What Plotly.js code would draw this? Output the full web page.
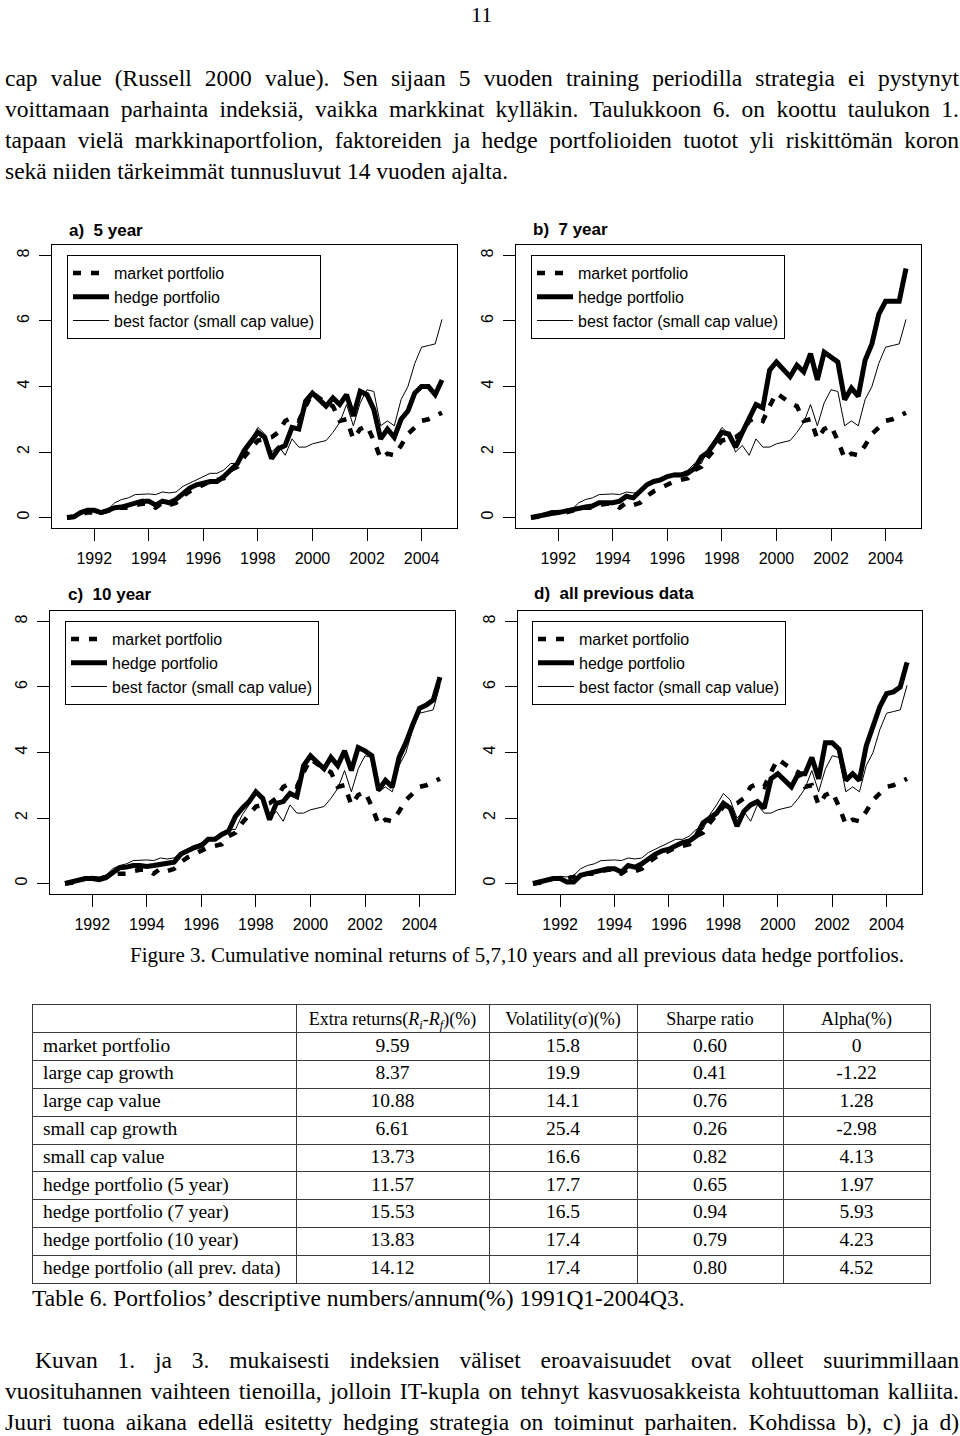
<!DOCTYPE html>
<html>
<head>
<meta charset="utf-8">
<script src="https://cdn.plot.ly/plotly-3.0.1.min.js"></script>
<style>
  html, body { margin: 0; padding: 0; background: #ffffff; }
  #page { width: 960px; height: 1436px; }
</style>
</head>
<body>
<div id="page"></div>
<script>
// ---------------- DATA ----------------
const quarters = [1991, 1991.25, 1991.5, 1991.75, 1992, 1992.25, 1992.5, 1992.75,
  1993, 1993.25, 1993.5, 1993.75, 1994, 1994.25, 1994.5, 1994.75,
  1995, 1995.25, 1995.5, 1995.75, 1996, 1996.25, 1996.5, 1996.75,
  1997, 1997.25, 1997.5, 1997.75, 1998, 1998.25, 1998.5, 1998.75,
  1999, 1999.25, 1999.5, 1999.75, 2000, 2000.25, 2000.5, 2000.75,
  2001, 2001.25, 2001.5, 2001.75, 2002, 2002.25, 2002.5, 2002.75,
  2003, 2003.25, 2003.5, 2003.75, 2004, 2004.25, 2004.5, 2004.75];

const marketPortfolio = [0, 0.02, 0.10, 0.15, 0.15, 0.15, 0.20, 0.28, 0.30, 0.30,
  0.38, 0.42, 0.42, 0.30, 0.45, 0.38, 0.45, 0.65, 0.80, 0.90,
  1.00, 1.10, 1.15, 1.20, 1.45, 1.55, 1.85, 2.10, 2.35, 2.40,
  2.45, 2.60, 2.95, 3.05, 2.95, 3.40, 3.80, 3.65, 3.50, 3.40,
  2.95, 3.00, 2.40, 2.70, 2.80, 2.35, 1.80, 1.95, 1.90, 2.20,
  2.55, 2.75, 2.95, 3.00, 3.10, 3.20];

const bestFactor = [0, 0.05, 0.15, 0.20, 0.22, 0.20, 0.25, 0.45, 0.55, 0.60,
  0.70, 0.72, 0.72, 0.70, 0.78, 0.75, 0.78, 0.95, 1.05, 1.15,
  1.25, 1.35, 1.35, 1.45, 1.65, 1.65, 2.10, 2.40, 2.75, 2.55,
  2.00, 2.20, 1.90, 2.40, 2.15, 2.15, 2.25, 2.30, 2.35, 2.60,
  2.90, 3.45, 2.80, 3.50, 3.90, 3.85, 2.80, 2.95, 2.80, 3.60,
  4.00, 4.70, 5.20, 5.25, 5.30, 6.05];

const hedge5 = [0, 0.02, 0.15, 0.22, 0.22, 0.15, 0.22, 0.30, 0.32, 0.38,
  0.45, 0.50, 0.50, 0.38, 0.50, 0.45, 0.55, 0.75, 0.90, 1.00,
  1.05, 1.10, 1.10, 1.25, 1.45, 1.65, 2.05, 2.30, 2.60, 2.45,
  1.80, 2.10, 2.20, 2.75, 2.70, 3.55, 3.80, 3.60, 3.40, 3.65,
  3.45, 3.75, 3.10, 3.85, 3.75, 3.30, 2.40, 2.70, 2.45, 3.00,
  3.25, 3.80, 4.00, 4.00, 3.75, 4.20];

const hedge7 = [0, 0.05, 0.10, 0.12, 0.15, 0.20, 0.22, 0.30, 0.32, 0.35,
  0.45, 0.45, 0.45, 0.50, 0.65, 0.60, 0.80, 1.00, 1.10, 1.15,
  1.25, 1.30, 1.30, 1.35, 1.50, 1.85, 2.00, 2.30, 2.60, 2.55,
  2.15, 2.60, 3.00, 3.45, 3.35, 4.50, 4.75, 4.50, 4.30, 4.65,
  4.45, 5.00, 4.20, 5.05, 4.90, 4.75, 3.60, 3.95, 3.70, 4.80,
  5.30, 6.20, 6.60, 6.60, 6.60, 7.60];

const hedge10 = [0, 0.05, 0.12, 0.15, 0.15, 0.12, 0.18, 0.35, 0.48, 0.50,
  0.55, 0.55, 0.52, 0.55, 0.60, 0.62, 0.65, 0.90, 1.00, 1.10,
  1.15, 1.35, 1.35, 1.50, 1.60, 2.05, 2.30, 2.50, 2.80, 2.60,
  1.95, 2.45, 2.50, 2.75, 2.65, 3.60, 3.90, 3.70, 3.50, 3.85,
  3.60, 4.05, 3.45, 4.15, 4.05, 3.90, 2.85, 3.15, 2.95, 3.85,
  4.30, 4.85, 5.35, 5.45, 5.60, 6.30];

const hedgeAll = [0, 0.05, 0.10, 0.15, 0.15, 0.05, 0.05, 0.25, 0.30, 0.35,
  0.40, 0.45, 0.45, 0.35, 0.55, 0.50, 0.60, 0.75, 0.90, 1.00,
  1.05, 1.15, 1.25, 1.30, 1.45, 1.85, 2.00, 2.15, 2.45, 2.30,
  1.75, 2.20, 2.40, 2.50, 2.30, 3.20, 3.35, 3.15, 2.95, 3.35,
  3.35, 3.85, 3.20, 4.30, 4.30, 4.10, 3.15, 3.35, 3.15, 4.20,
  4.80, 5.40, 5.80, 5.85, 6.00, 6.75];

const seriesNames = ['market portfolio', 'hedge portfolio', 'best factor (small cap value)'];
const panelTitles = ['a)\u00a0 5 year', 'b)\u00a0 7 year', 'c)\u00a0 10 year', 'd)\u00a0 all previous data'];
const xTickYears = [1992, 1994, 1996, 1998, 2000, 2002, 2004];
const yTickValues = [0, 2, 4, 6, 8];

// Table 6
const tableRows = ['market portfolio', 'large cap growth', 'large cap value', 'small cap growth',
  'small cap value', 'hedge portfolio (5 year)', 'hedge portfolio (7 year)',
  'hedge portfolio (10 year)', 'hedge portfolio (all prev. data)'];
const tableHeaders = ['', 'Extra returns(<i>R</i><sub><i>i</i></sub>-<i>R</i><sub><i>f</i></sub>)(%)',
  'Volatility(\u03c3)(%)', 'Sharpe ratio', 'Alpha(%)'];
const extraReturns = [9.59, 8.37, 10.88, 6.61, 13.73, 11.57, 15.53, 13.83, 14.12];
const volatility = [15.8, 19.9, 14.1, 25.4, 16.6, 17.7, 16.5, 17.4, 17.4];
const sharpeRatio = [0.60, 0.41, 0.76, 0.26, 0.82, 0.65, 0.94, 0.79, 0.80];
const alpha = [0, -1.22, 1.28, -2.98, 4.13, 1.97, 5.93, 4.23, 4.52];

// Text of the page
const topParagraph = [
  'cap value (Russell 2000 value). Sen sijaan 5 vuoden training periodilla strategia ei pystynyt',
  'voittamaan parhainta indeksiä, vaikka markkinat kylläkin. Taulukkoon 6. on koottu taulukon 1.',
  'tapaan vielä markkinaportfolion, faktoreiden ja hedge portfolioiden tuotot yli riskittömän koron',
  'sekä niiden tärkeimmät tunnusluvut 14 vuoden ajalta.'
];
const bottomParagraph = [
  'Kuvan 1. ja 3. mukaisesti indeksien väliset eroavaisuudet ovat olleet suurimmillaan',
  'vuosituhannen vaihteen tienoilla, jolloin IT-kupla on tehnyt kasvuosakkeista kohtuuttoman kalliita.',
  'Juuri tuona aikana edellä esitetty hedging strategia on toiminut parhaiten. Kohdissa b), c) ja d)'
];
const figureCaption = 'Figure 3. Cumulative nominal returns of 5,7,10 years and all previous data hedge portfolios.';
const tableCaption = 'Table 6. Portfolios\u2019 descriptive numbers/annum(%) 1991Q1-2004Q3.';
const pageNumber = '11';

// ---------------- LAYOUT / STYLE ----------------
const W = 960, H = 1436;
const fx = px => px / W;
const fy = py => 1 - py / H;
const SANS = 'Liberation Sans, Arial, sans-serif';
const SERIF = 'Liberation Serif, Times New Roman, serif';

const hedgeSeries = [hedge5, hedge7, hedge10, hedgeAll];
const panelBoxes = [[52, 457, 245, 528], [516, 921, 245, 528], [50, 455, 611, 894], [518, 922, 611, 894]];
const panelTitlePos = [[67, 230], [531, 229], [66, 594], [532, 593]];
const legendPos = [[67, 255], [531, 255], [65, 621], [532, 621]];

const traces = [];
const layout = {
  width: W, height: H,
  margin: {l: 0, r: 0, t: 0, b: 0},
  paper_bgcolor: '#ffffff', plot_bgcolor: '#ffffff',
  showlegend: true,
  annotations: []
};

const lineStyles = [
  {color: '#000', width: 4.5, dash: '8px,10px'},
  {color: '#000', width: 5},
  {color: '#000', width: 1}
];

panelBoxes.forEach((box, p) => {
  const suffix = p === 0 ? '' : String(p + 1);
  const legendId = 'legend' + suffix;
  const series = [marketPortfolio, hedgeSeries[p], bestFactor];
  series.forEach((ys, s) => {
    traces.push({
      type: 'scatter', mode: 'lines',
      x: quarters, y: ys,
      name: seriesNames[s],
      line: lineStyles[s],
      xaxis: 'x' + suffix, yaxis: 'y' + suffix,
      legend: legendId,
      hoverinfo: 'skip'
    });
  });
  layout['xaxis' + suffix] = {
    domain: [fx(box[0]), fx(box[1])],
    anchor: 'y' + suffix,
    range: [1990.45, 2005.3],
    tickmode: 'array', tickvals: xTickYears, ticktext: xTickYears.map(String),
    ticks: 'outside', ticklen: 12, tickwidth: 1, tickcolor: '#000',
    ticklabelstandoff: 4,
    showline: true, mirror: true, linecolor: '#000', linewidth: 1,
    showgrid: false, zeroline: false, fixedrange: true,
    tickfont: {family: SANS, size: 16, color: '#000'}
  };
  layout['yaxis' + suffix] = {
    domain: [fy(box[3]), fy(box[2])],
    anchor: 'x' + suffix,
    range: [-0.32, 8.32],
    tickmode: 'array', tickvals: yTickValues, ticktext: yTickValues.map(String),
    tickangle: -90,
    ticks: 'outside', ticklen: 12, tickwidth: 1, tickcolor: '#000',
    ticklabelstandoff: 4,
    showline: true, mirror: true, linecolor: '#000', linewidth: 1,
    showgrid: false, zeroline: false, fixedrange: true,
    tickfont: {family: SANS, size: 16, color: '#000'}
  };
  layout[legendId] = {
    x: fx(legendPos[p][0]), y: fy(legendPos[p][1]),
    xanchor: 'left', yanchor: 'top',
    xref: 'paper', yref: 'paper',
    bgcolor: '#ffffff', bordercolor: '#000', borderwidth: 1,
    font: {family: SANS, size: 16, color: '#000'},
    itemwidth: 36, tracegroupgap: 0, traceorder: 'normal'
  };
  layout.annotations.push({
    xref: 'paper', yref: 'paper',
    x: fx(panelTitlePos[p][0]), y: fy(panelTitlePos[p][1]),
    xanchor: 'left', yanchor: 'middle', align: 'left', showarrow: false,
    text: '<b>' + panelTitles[p] + '</b>',
    font: {family: SANS, size: 17, color: '#000'}
  });
});

// ---------------- TABLE (text traces on an axis grid) ----------------
const colWidths = [263, 193, 148, 146, 147];
const colEdges = [0];
colWidths.forEach(w => colEdges.push(colEdges[colEdges.length - 1] + w));
const colCenters = colWidths.map((w, i) => colEdges[i] + w / 2);
const nRows = tableRows.length + 1;
const rowEdges = [];
for (let i = 0; i <= nRows; i++) rowEdges.push(i);

layout.xaxis5 = {
  domain: [fx(33), fx(930)], anchor: 'y5',
  range: [0, colEdges[colEdges.length - 1]],
  tickmode: 'array', tickvals: colEdges, showticklabels: false, ticks: '',
  showgrid: true, gridcolor: '#3a3a3a', gridwidth: 1,
  showline: true, mirror: true, linecolor: '#3a3a3a', linewidth: 1,
  zeroline: false, fixedrange: true
};
layout.yaxis5 = {
  domain: [fy(1283), fy(1005)], anchor: 'x5',
  range: [nRows, 0],
  tickmode: 'array', tickvals: rowEdges, showticklabels: false, ticks: '',
  showgrid: true, gridcolor: '#3a3a3a', gridwidth: 1,
  showline: true, mirror: true, linecolor: '#3a3a3a', linewidth: 1,
  zeroline: false, fixedrange: true
};

const tableFont = {family: SERIF, size: 19.5, color: '#000'};
const rowY = tableRows.map((_, i) => i + 1.5);
// header
traces.push({
  type: 'scatter', mode: 'text', xaxis: 'x5', yaxis: 'y5',
  x: colCenters.slice(1), y: colCenters.slice(1).map(() => 0.55),
  text: tableHeaders.slice(1), textposition: 'middle center',
  textfont: {family: SERIF, size: 18, color: '#000'},
  showlegend: false, hoverinfo: 'skip', cliponaxis: false
});
// row labels
traces.push({
  type: 'scatter', mode: 'text', xaxis: 'x5', yaxis: 'y5',
  x: tableRows.map(() => 10), y: rowY,
  text: tableRows, textposition: 'middle right',
  textfont: tableFont, showlegend: false, hoverinfo: 'skip', cliponaxis: false
});
const columns = [
  extraReturns.map(v => v.toFixed(2)),
  volatility.map(v => v.toFixed(1)),
  sharpeRatio.map(v => v.toFixed(2)),
  alpha.map(v => v === 0 ? '0' : v.toFixed(2))
];
columns.forEach((col, c) => {
  traces.push({
    type: 'scatter', mode: 'text', xaxis: 'x5', yaxis: 'y5',
    x: col.map(() => colCenters[c + 1]), y: rowY,
    text: col, textposition: 'middle center',
    textfont: tableFont, showlegend: false, hoverinfo: 'skip', cliponaxis: false
  });
});

// ---------------- PAGE TEXT ----------------
const textSpecs = [];
function addText(text, x, y, size, opts) {
  opts = opts || {};
  textSpecs.push({justifyTo: opts.justifyTo || null, x: x});
  layout.annotations.push({
    xref: 'paper', yref: 'paper',
    x: fx(x), y: fy(y),
    xanchor: opts.xanchor || 'left', yanchor: opts.yanchor || 'middle',
    align: opts.xanchor === 'center' ? 'center' : 'left',
    showarrow: false, text: text,
    font: {family: SERIF, size: size, color: '#000'}
  });
}
const nPanelTitles = layout.annotations.length;
for (let i = 0; i < nPanelTitles; i++) textSpecs.push({justifyTo: null});

addText(pageNumber, 481, 0, 22, {xanchor: 'center', yanchor: 'top'});
const topY = [78, 109, 140, 171];
topParagraph.forEach((line, i) => addText(line, 3, topY[i], 23.5, {justifyTo: i < 3 ? 957 : null}));
addText(figureCaption, 128, 955, 21);
addText(tableCaption, 30, 1298, 23.5);
const bottomY = [1360, 1391, 1422];
bottomParagraph.forEach((line, i) => addText(line, i === 0 ? 33 : 3, bottomY[i], 23.5, {justifyTo: 957}));

const gd = document.getElementById('page');
Plotly.newPlot(gd, traces, layout, {staticPlot: true, displayModeBar: false}).then(function () {
  const groups = gd.querySelectorAll('g.annotation');
  groups.forEach(function (g) {
    const idx = +g.getAttribute('data-index');
    const spec = textSpecs[idx];
    if (!spec || !spec.justifyTo) return;
    const t = g.querySelector('text.annotation-text');
    if (!t) return;
    const len = t.getComputedTextLength();
    const n = (t.textContent.match(/ /g) || []).length;
    if (n > 0) {
      const ws = (spec.justifyTo - spec.x - len) / n;
      t.style.wordSpacing = ws + 'px';
    }
  });
});
</script>
</body>
</html>
